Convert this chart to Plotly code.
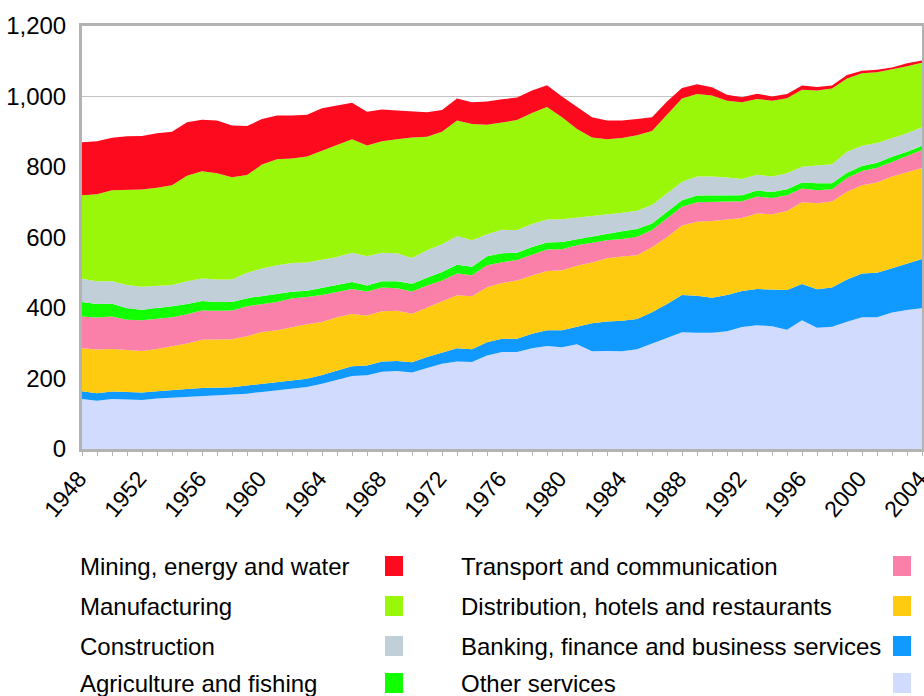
import plotly.graph_objects as go

# 数据：1948-2004 各行业（自下而上堆叠）
years = list(range(1948, 2005))

other_services = [142, 137, 142, 141, 139, 143, 145, 148, 151, 152,
                  153, 157, 162, 166, 171, 176, 185, 196, 207, 209,
                  219, 221, 217, 230, 242, 248, 247, 265, 275, 275,
                  286, 292, 289, 297, 277, 278, 277, 283, 299, 316,
                  331, 330, 330, 334, 346, 351, 348, 338, 365, 344,
                  347, 361, 374, 374, 387, 394, 400]
banking = [22, 21, 21, 20, 21, 21, 21, 22, 22, 22,
           22, 23, 23, 23, 23, 23, 25, 27, 28, 28,
           29, 29, 29, 31, 31, 38, 36, 38, 38, 38,
           41, 45, 48, 49, 80, 84, 87, 86, 89, 95,
           106, 105, 99, 103, 102, 103, 105, 113, 103, 109,
           111, 120, 124, 126, 126, 133, 139]
distribution = [122, 124, 121, 119, 118, 120, 125, 129, 137, 136,
                136, 140, 147, 148, 152, 155, 150, 151, 148, 142,
                143, 142, 138, 140, 144, 150, 150, 156, 158, 165,
                165, 168, 170, 174, 172, 179, 182, 181, 184, 190,
                197, 210, 218, 213, 207, 214, 213, 224, 232, 244,
                244, 249, 250, 256, 260, 258, 258]
transport = [90, 91, 92, 87, 87, 86, 83, 83, 83, 82,
             82, 85, 80, 80, 82, 77, 77, 71, 71, 68,
             67, 64, 63, 63, 61, 62, 60, 62, 59, 58,
             60, 61, 60, 58, 56, 51, 50, 52, 49, 53,
             53, 55, 55, 52, 48, 48, 46, 45, 39, 37,
             35, 39, 41, 42, 41, 47, 51]
agriculture = [41, 38, 36, 32, 30, 29, 31, 29, 27, 25,
               24, 23, 22, 22, 18, 18, 20, 19, 20, 17,
               18, 20, 22, 22, 24, 25, 24, 26, 25, 21,
               21, 20, 20, 17, 18, 20, 22, 22, 19, 19,
               19, 19, 18, 18, 17, 17, 17, 17, 17, 20,
               17, 15, 14, 14, 15, 11, 12]
construction = [66, 65, 64, 66, 65, 64, 60, 65, 64, 64,
                64, 72, 78, 82, 82, 80, 81, 81, 83, 83,
                81, 79, 73, 78, 79, 81, 75, 62, 67, 64,
                65, 65, 65, 61, 57, 54, 52, 52, 52, 52,
                52, 54, 53, 50, 46, 45, 44, 45, 45, 50,
                54, 59, 57, 56, 53, 53, 53]
manufacturing = [237, 247, 258, 271, 276, 278, 283, 299, 304, 301,
                 290, 277, 295, 301, 296, 301, 308, 318, 322, 314,
                 316, 324, 342, 322, 319, 328, 330, 311, 305, 312,
                 315, 319, 289, 252, 224, 213, 212, 214, 210, 223,
                 236, 234, 230, 218, 218, 215, 215, 213, 218, 213,
                 215, 208, 206, 201, 195, 190, 183]
mining = [150, 150, 149, 151, 152, 155, 152, 152, 146, 150,
          147, 139, 129, 124, 122, 118, 121, 112, 103, 96,
          90, 81, 74, 69, 62, 62, 62, 66, 65, 64,
          64, 62, 59, 62, 57, 53, 50, 46, 39, 38,
          30, 28, 23, 17, 14, 15, 12, 12, 12, 10,
          8, 10, 7, 7, 5, 8, 6]

y_ticks = [0, 200, 400, 600, 800, 1000, 1200]

# 堆叠顺序（自下而上）
series = [
    ('Other services', other_services, '#D0DBFD'),
    ('Banking, finance and business services', banking, '#1099FE'),
    ('Distribution, hotels and restaurants', distribution, '#FECB10'),
    ('Transport and communication', transport, '#FA80AA'),
    ('Agriculture and fishing', agriculture, '#12FF00'),
    ('Construction', construction, '#C1D0D8'),
    ('Manufacturing', manufacturing, '#9BF70A'),
    ('Mining, energy and water', mining, '#FE0A1E'),
]

# 图例两列（左列 / 右列）
legend_left = ['Mining, energy and water', 'Manufacturing', 'Construction', 'Agriculture and fishing']
legend_right = ['Transport and communication', 'Distribution, hotels and restaurants',
                'Banking, finance and business services', 'Other services']

W, H = 924, 696
PL, PR, PT, PB = 82, 922, 26, 449
FONT = 'Liberation Sans, Arial, sans-serif'
AXIS_GREY = '#b3b3b3'


def paper(x, y):
    # 像素 -> paper 坐标
    return (x - PL) / (PR - PL), (PB - y) / (PB - PT)


fig = go.Figure()
for name, vals, color in series:
    fig.add_trace(go.Scatter(
        x=years, y=vals, name=name,
        mode='lines', stackgroup='one',
        line=dict(width=0, color=color),
        fillcolor=color,
        showlegend=False,
    ))

# 自制图例：文字在左，色块在右
colors = {n: c for n, _, c in series}
annotations = []
shapes = []
for col, (tx, sq_x0) in enumerate([(78, 385), (459, 893)]):
    names = legend_left if col == 0 else legend_right
    for i, name in enumerate(names):
        yc = 566 + 40 * i - (3 if i == 3 else 0)
        px, py = paper(tx, yc)
        annotations.append(dict(
            xref='paper', yref='paper', x=px, y=py,
            xanchor='left', yanchor='middle', showarrow=False,
            text=name, font=dict(size=24, color='black', family=FONT),
        ))
        x0, y0 = paper(sq_x0, yc + 10)
        x1, y1 = paper(sq_x0 + 18, yc - 10)
        shapes.append(dict(
            type='rect', xref='paper', yref='paper',
            x0=x0, y0=y0, x1=x1, y1=y1,
            line=dict(width=0), fillcolor=colors[name],
        ))

fig.update_xaxes(
    range=[1948, 2004], automargin=False,
    tickmode='linear', tick0=1948, dtick=4,
    ticks='outside', ticklen=4, tickwidth=1, tickcolor=AXIS_GREY,
    minor=dict(dtick=1, ticks='outside', ticklen=4, tickwidth=1, tickcolor=AXIS_GREY),
    tickangle=-50, ticklabeloverflow='allow', ticklabelshift=-3,
    tickfont=dict(size=23, color='black', family=FONT),
    showgrid=False, zeroline=False,
    showline=True, linecolor=AXIS_GREY, linewidth=3, mirror=True,
)
fig.update_yaxes(
    range=[0, 1200], automargin=False,
    tickmode='array', tickvals=y_ticks, tickformat=',',
    ticks='outside', ticklen=8, tickcolor='rgba(0,0,0,0)',
    tickfont=dict(size=24, color='black', family=FONT),
    showgrid=True, gridcolor='#c4c4c4', gridwidth=1, zeroline=False,
    showline=True, linecolor=AXIS_GREY, linewidth=3, mirror=True,
)

fig.update_layout(
    width=W, height=H,
    margin=dict(l=PL, r=W - PR, t=PT, b=H - PB, pad=0, autoexpand=False),
    plot_bgcolor='white', paper_bgcolor='white',
    font=dict(family=FONT, size=24, color='black'),
    annotations=annotations,
    shapes=shapes,
    showlegend=False,
)

# 去掉页面默认的 body 边距，让图正好贴满窗口
fig.write_html("out.html", config={'displayModeBar': False},
               post_script="document.body.style.margin='0px';")
